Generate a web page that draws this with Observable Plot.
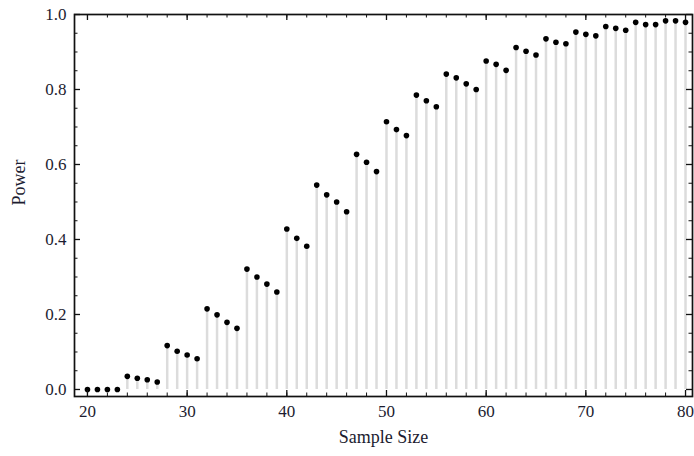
<!DOCTYPE html>
<html><head><meta charset="utf-8">
<script src="https://cdn.jsdelivr.net/npm/d3@7"></script>
<script src="https://cdn.jsdelivr.net/npm/@observablehq/plot@0.6"></script>
<style>body{margin:0;background:#fff}</style>
</head><body><div id="chart"></div>
<script>
const sampleSize = [20,21,22,23,24,25,26,27,28,29,30,31,32,33,34,35,36,37,38,39,40,41,42,43,44,45,46,47,48,49,50,51,52,53,54,55,56,57,58,59,60,61,62,63,64,65,66,67,68,69,70,71,72,73,74,75,76,77,78,79,80];
const power = [0,0,0,0, 0.035,0.030,0.026,0.020, 0.117,0.102,0.092,0.082, 0.215,0.199,0.179,0.163, 0.321,0.300,0.281,0.260, 0.428,0.403,0.382, 0.545,0.519,0.500,0.474, 0.627,0.606,0.581, 0.714,0.693,0.677, 0.785,0.770,0.754, 0.841,0.831,0.815,0.800, 0.876,0.867,0.851, 0.912,0.902,0.892, 0.935,0.926,0.922, 0.953,0.947,0.943, 0.968,0.963,0.958, 0.979,0.973,0.973, 0.983,0.983,0.979];
const xMajorTicks = [20,30,40,50,60,70,80];
const xMinorTicks = [20,22,24,26,28,30,32,34,36,38,40,42,44,46,48,50,52,54,56,58,60,62,64,66,68,70,72,74,76,78,80];
const yMajorTicks = [0,0.2,0.4,0.6,0.8,1.0];
const yMinorTicks = [0,0.05,0.1,0.15,0.2,0.25,0.3,0.35,0.4,0.45,0.5,0.55,0.6,0.65,0.7,0.75,0.8,0.85,0.9,0.95,1.0];
const xLabel = "Sample Size";
const yLabel = "Power";

const data = sampleSize.map((n, i) => ({n, power: power[i]}));

const W = 694, H = 456, mt = 14, mb = 60, ml = 74, mr = 2;
const innerH = H - mt - mb, innerW = W - ml - mr;
const ink = "#111";
const labelInk = "#1c1c30";
const serif = "Liberation Serif";
const minorLen = 3.5, majorLen = 6;
const fmt = d3.format(".1f");

const chart = Plot.plot({
  width: W, height: H,
  marginTop: mt, marginBottom: mb, marginLeft: ml, marginRight: mr,
  style: {fontFamily: serif, fontSize: "16px", color: ink, background: "white"},
  x: {domain: [18.7, 80.7], label: null, axis: null},
  y: {domain: [-0.0187, 1.0], label: null, axis: null},
  marks: [
    Plot.ruleX(data, {x: "n", y1: 0, y2: "power", stroke: "#dcdcdc", strokeWidth: 2.5}),
    Plot.dot(data, {x: "n", y: "power", r: 2.8, fill: "black", stroke: null}),
    // inward ticks on all sides
    Plot.tickX(xMinorTicks, {x: d => d, insetTop: innerH - minorLen, stroke: ink}),
    Plot.tickX(xMinorTicks, {x: d => d, insetBottom: innerH - minorLen, stroke: ink}),
    Plot.tickX(xMajorTicks, {x: d => d, insetTop: innerH - majorLen, stroke: ink, strokeWidth: 1.3}),
    Plot.tickX(xMajorTicks, {x: d => d, insetBottom: innerH - majorLen, stroke: ink, strokeWidth: 1.3}),
    Plot.tickY(yMinorTicks, {y: d => d, insetRight: innerW - minorLen, stroke: ink}),
    Plot.tickY(yMinorTicks, {y: d => d, insetLeft: innerW - minorLen, stroke: ink}),
    Plot.tickY(yMajorTicks, {y: d => d, insetRight: innerW - majorLen, stroke: ink, strokeWidth: 1.3}),
    Plot.tickY(yMajorTicks, {y: d => d, insetLeft: innerW - majorLen, stroke: ink, strokeWidth: 1.3}),
    // tick labels
    Plot.text(xMajorTicks, {x: d => d, text: d => String(d), frameAnchor: "bottom", lineAnchor: "top", dy: 8, fontFamily: serif, fontSize: 17, fill: labelInk}),
    Plot.text(yMajorTicks, {y: d => d, text: d => fmt(d), frameAnchor: "left", textAnchor: "end", dx: -8, fontFamily: serif, fontSize: 17, fill: labelInk}),
    // axis titles
    Plot.text([xLabel], {text: d => d, frameAnchor: "bottom", dy: 46, fontSize: 18, fontFamily: serif, fill: labelInk}),
    Plot.text([yLabel], {text: d => d, frameAnchor: "left", dx: -55, rotate: -90, fontSize: 18, fontFamily: serif, fill: labelInk}),
    Plot.frame({stroke: ink, strokeWidth: 1.7})
  ]
});
document.getElementById("chart").append(chart);
</script>
</body></html>
